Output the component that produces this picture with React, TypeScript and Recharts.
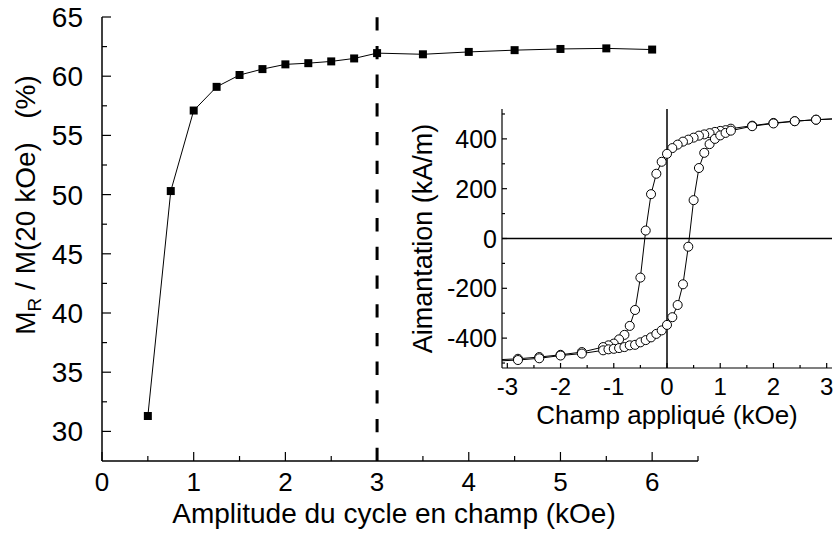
import React from 'react';
import { ScatterChart, Scatter, XAxis, YAxis, ZAxis, ReferenceLine, Label } from 'recharts';

const FONT = 'Arial, "Liberation Sans", Helvetica, sans-serif';

// main plot: remanence ratio vs cycle amplitude
const amplitude = [0.5, 0.75, 1, 1.25, 1.5, 1.75, 2, 2.25, 2.5, 2.75, 3, 3.5, 4, 4.5, 5, 5.5, 6];
const remanence = [31.3, 50.3, 57.1, 59.1, 60.1, 60.6, 61.0, 61.1, 61.25, 61.5, 61.95, 61.85, 62.05, 62.2, 62.3, 62.35, 62.25];
const mainXTicks = [0, 0.5, 1, 1.5, 2, 2.5, 3, 3.5, 4, 4.5, 5, 5.5, 6, 6.5];
const mainYTicks = [30, 32.5, 35, 37.5, 40, 42.5, 45, 47.5, 50, 52.5, 55, 57.5, 60, 62.5, 65];

// inset: hysteresis loop
const fieldDown = [3.2, 2.8, 2.4, 2.0, 1.6, 1.2, 1.1, 1.0, 0.9, 0.8, 0.7, 0.6, 0.5, 0.4, 0.3, 0.2, 0.1, 0, -0.1, -0.2, -0.3, -0.4, -0.5, -0.6, -0.7, -0.8, -0.9, -1.0, -1.1, -1.2, -1.6, -2.0, -2.4, -2.8, -3.2];
const magDown = [481, 477, 471, 464, 453, 441, 435, 432, 428, 423, 418, 413, 405, 397, 389, 377, 363, 340, 308, 260, 178, 32, -157, -287, -351, -387, -405, -422, -429, -436, -456, -467, -476, -483, -487];
const fieldUp = [-3.2, -2.8, -2.4, -2.0, -1.6, -1.2, -1.1, -1.0, -0.9, -0.8, -0.7, -0.6, -0.5, -0.4, -0.3, -0.2, -0.1, 0, 0.1, 0.2, 0.3, 0.4, 0.5, 0.6, 0.7, 0.8, 0.9, 1.0, 1.1, 1.2, 1.6, 2.0, 2.4, 2.8, 3.2];
const magUp = [-492, -488, -481, -470, -462, -449, -445, -443, -440, -436, -429, -427, -417, -408, -397, -383, -369, -347, -316, -267, -184, -33, 154, 283, 344, 379, 400, 414, 424, 433, 451, 462, 471, 477, 481];
const insetXTicks = [-3, -2.5, -2, -1.5, -1, -0.5, 0, 0.5, 1, 1.5, 2, 2.5, 3];
const insetYTicks = [-500, -400, -300, -200, -100, 0, 100, 200, 300, 400, 500];

const mainData = amplitude.map((a, i) => ({ x: a, y: remanence[i] }));
const downData = fieldDown.map((h, i) => ({ x: h, y: magDown[i] }));
const upData = fieldUp.map((h, i) => ({ x: h, y: magUp[i] }));

interface TickSpec {
  side: 'bottom' | 'top' | 'left' | 'right';
  major: (v: number) => boolean;
  long: number;
  short: number;
  gap: number;
  fontSize?: number;
  showLabel?: boolean;
}

// inward ticks, major/minor lengths, labels only on majors
function makeTick(spec: TickSpec) {
  return function Tick(props: any) {
    const { x, y, payload } = props;
    const v: number = payload.value;
    const isMajor = spec.major(v);
    const len = isMajor ? spec.long : spec.short;
    const label = spec.showLabel && isMajor;
    const tp = { fontSize: spec.fontSize, fontFamily: FONT, fill: '#000' };
    if (spec.side === 'bottom') {
      const ay = y - spec.gap;
      return (
        <g>
          <line x1={x} x2={x} y1={ay} y2={ay - len} stroke="#000" strokeWidth={1.2} />
          {label && <text x={x} y={y} dy="0.71em" textAnchor="middle" {...tp}>{v}</text>}
        </g>
      );
    }
    if (spec.side === 'top') {
      return <line x1={x} x2={x} y1={y} y2={y + len} stroke="#000" strokeWidth={1.2} />;
    }
    if (spec.side === 'left') {
      const ax = x + spec.gap;
      return (
        <g>
          <line x1={ax} x2={ax + len} y1={y} y2={y} stroke="#000" strokeWidth={1.2} />
          {label && <text x={x} y={y} dy="0.36em" textAnchor="end" {...tp}>{v}</text>}
        </g>
      );
    }
    return <line x1={x} x2={x - len} y1={y} y2={y} stroke="#000" strokeWidth={1.2} />;
  };
}

const isInt = (v: number) => Number.isInteger(v);
const isFive = (v: number) => v % 5 === 0;
const isTwoHundred = (v: number) => v % 200 === 0;

const MainYLabel = (props: any) => {
  const { viewBox } = props;
  const cx = 35;
  const cy = viewBox.y + viewBox.height / 2 - 34;
  return (
    <text transform={`translate(${cx},${cy}) rotate(-90)`} textAnchor="middle" fontSize={28} fontFamily={FONT} fill="#000">
      M<tspan dy={6} fontSize={19}>R</tspan>
      <tspan dy={-6}>{'\u00A0/ M(20 kOe)\u00A0\u00A0\u00A0(%)'}</tspan>
    </text>
  );
};

const MainXLabel = (props: any) => {
  const { viewBox } = props;
  return (
    <text x={viewBox.x + viewBox.width / 2 - 6} y={viewBox.y + 62} textAnchor="middle" fontSize={28} fontFamily={FONT} fill="#000">
      Amplitude du cycle en champ (kOe)
    </text>
  );
};

const InsetYLabel = (props: any) => {
  const { viewBox } = props;
  const cy = viewBox.y + viewBox.height / 2;
  return (
    <text transform={`translate(32,${cy}) rotate(-90)`} textAnchor="middle" fontSize={27} fontFamily={FONT} fill="#000">
      Aimantation (kA/m)
    </text>
  );
};

const InsetXLabel = (props: any) => {
  const { viewBox } = props;
  return (
    <text x={viewBox.x + viewBox.width / 2} y={viewBox.y + 56} textAnchor="middle" fontSize={26} fontFamily={FONT} fill="#000">
      Champ appliqué (kOe)
    </text>
  );
};

function MainChart() {
  const axisLine = { stroke: '#000', strokeWidth: 1.5 };
  return (
    <ScatterChart width={837} height={534} margin={{ top: 17, right: 139, bottom: 0, left: 0 }}>
      <XAxis type="number" dataKey="x" domain={[0, 6.5]} ticks={mainXTicks} interval={0} height={73}
        axisLine={axisLine} tickLine={false} tickSize={0} tickMargin={12}
        tick={makeTick({ side: 'bottom', major: isInt, long: 9, short: 5, gap: 12, fontSize: 26, showLabel: true })}>
        <Label content={MainXLabel} />
      </XAxis>
      <XAxis xAxisId="top" orientation="top" type="number" domain={[0, 6.5]} ticks={mainXTicks} interval={0} height={0}
        axisLine={axisLine} tickLine={false} tickSize={0} tickMargin={0}
        tick={makeTick({ side: 'top', major: isInt, long: 9, short: 5, gap: 0 })} />
      <YAxis type="number" dataKey="y" domain={[27.5, 65]} ticks={mainYTicks} interval={0} width={102}
        axisLine={axisLine} tickLine={false} tickSize={0} tickMargin={19}
        tick={makeTick({ side: 'left', major: isFive, long: 9, short: 5, gap: 19, fontSize: 28, showLabel: true })}>
        <Label content={MainYLabel} />
      </YAxis>
      <YAxis yAxisId="right" orientation="right" type="number" domain={[27.5, 65]} ticks={mainYTicks} interval={0} width={0}
        axisLine={axisLine} tickLine={false} tickSize={0} tickMargin={0}
        tick={makeTick({ side: 'right', major: isFive, long: 9, short: 5, gap: 0 })} />
      <ZAxis range={[70, 70]} />
      <ReferenceLine x={3} stroke="#000" strokeWidth={3} strokeDasharray="13.3 15.4" />
      <Scatter data={mainData} shape="square" fill="#000" line={{ stroke: '#000', strokeWidth: 1 }} lineType="joint" isAnimationActive={false} />
    </ScatterChart>
  );
}

function InsetChart() {
  const axisLine = { stroke: '#000', strokeWidth: 1.2 };
  return (
    <ScatterChart width={437} height={330} margin={{ top: 9, right: 5, bottom: 0, left: 0 }}>
      <XAxis type="number" dataKey="x" domain={[-3.1, 3.1]} allowDataOverflow ticks={insetXTicks} interval={0} height={62}
        axisLine={axisLine} tickLine={false} tickSize={0} tickMargin={10}
        tick={makeTick({ side: 'bottom', major: isInt, long: 5, short: 3, gap: 10, fontSize: 24, showLabel: true })}>
        <Label content={InsetXLabel} />
      </XAxis>
      <XAxis xAxisId="top" orientation="top" type="number" domain={[-3.1, 3.1]} allowDataOverflow ticks={insetXTicks} interval={0} height={0}
        axisLine={axisLine} tickLine={false} tickSize={0} tickMargin={0}
        tick={makeTick({ side: 'top', major: isInt, long: 5, short: 3, gap: 0 })} />
      <YAxis type="number" dataKey="y" domain={[-520, 520]} allowDataOverflow ticks={insetYTicks} interval={0} width={102}
        axisLine={axisLine} tickLine={false} tickSize={0} tickMargin={5}
        tick={makeTick({ side: 'left', major: isTwoHundred, long: 5, short: 3, gap: 5, fontSize: 25, showLabel: true })}>
        <Label content={InsetYLabel} />
      </YAxis>
      <YAxis yAxisId="right" orientation="right" type="number" domain={[-520, 520]} allowDataOverflow ticks={insetYTicks} interval={0} width={0}
        axisLine={axisLine} tickLine={false} tickSize={0} tickMargin={0}
        tick={makeTick({ side: 'right', major: isTwoHundred, long: 5, short: 3, gap: 0 })} />
      <ZAxis range={[25, 25]} />
      <ReferenceLine y={0} stroke="#000" strokeWidth={1.5} />
      <ReferenceLine x={0} stroke="#000" strokeWidth={1.5} />
      <Scatter data={downData} shape="circle" fill="#fff" stroke="#000" strokeWidth={1} line={{ stroke: '#000', strokeWidth: 1 }} lineType="joint" isAnimationActive={false} />
      <Scatter data={upData} shape="circle" fill="#fff" stroke="#000" strokeWidth={1} line={{ stroke: '#000', strokeWidth: 1 }} lineType="joint" isAnimationActive={false} />
    </ScatterChart>
  );
}

export default function App() {
  return (
    <div style={{ position: 'absolute', left: 0, top: 0, width: 837, height: 534, background: '#fff' }}>
      <MainChart />
      <div style={{ position: 'absolute', left: 400, top: 100, width: 437, height: 330, background: '#fff' }}>
        <InsetChart />
      </div>
    </div>
  );
}
